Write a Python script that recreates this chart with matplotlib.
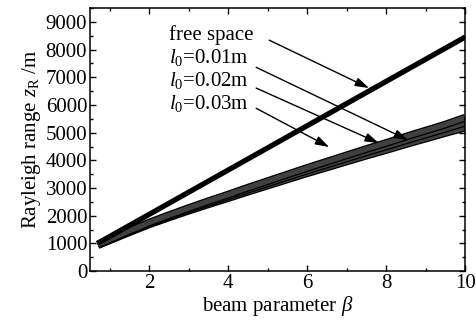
import matplotlib
matplotlib.use("Agg")
import matplotlib.pyplot as plt
import matplotlib.patheffects as pe
from matplotlib.ticker import MultipleLocator

beta = [0.7, 1.0, 1.5, 2.0, 2.5, 3.0, 3.5, 4.0, 4.5, 5.0, 5.5, 6.0, 6.5, 7.0, 7.5, 8.0, 8.5, 9.0, 9.5, 10.0]
z_free = [1010, 1250, 1650, 2050, 2450, 2850, 3250, 3650, 4050, 4450, 4850, 5250, 5650, 6050, 6450, 6850, 7250, 7650, 8050, 8450]
z_l001 = [961, 1146, 1454, 1752, 2020, 2278, 2526, 2764, 3012, 3250, 3488, 3726, 3954, 4182, 4410, 4628, 4856, 5074, 5292, 5540]
z_l002 = [950, 1130, 1430, 1720, 1980, 2230, 2470, 2700, 2940, 3170, 3400, 3630, 3850, 4070, 4290, 4500, 4720, 4930, 5140, 5360]
z_l003 = [939, 1114, 1406, 1688, 1940, 2182, 2414, 2636, 2868, 3090, 3312, 3534, 3746, 3958, 4170, 4372, 4584, 4786, 4988, 5180]

labels = ["free space", r"$l_0$=0.01m", r"$l_0$=0.02m", r"$l_0$=0.03m"]
text_pos = [(2.51, 8520), (2.51, 7725), (2.51, 6900), (2.51, 6065)]
arrow_start = [(5.04, 8340), (4.71, 7360), (4.71, 6610), (4.71, 5880)]
arrow_end = [(7.57, 6610), (8.56, 4730), (7.82, 4620), (6.56, 4480)]

plt.rcParams['font.family'] = ['Liberation Serif', 'DejaVu Serif']
plt.rcParams['mathtext.fontset'] = 'custom'
plt.rcParams['mathtext.rm'] = 'Liberation Serif'
plt.rcParams['mathtext.it'] = 'Liberation Serif:italic'

fig = plt.figure(figsize=(4.76, 3.22), dpi=100)
ax = fig.add_axes([0.189, 0.158, 0.788, 0.817])

for z in (z_l003, z_l002, z_l001):
    ax.plot(beta, z, color='#404040', lw=3.8, solid_capstyle='butt',
            path_effects=[pe.Stroke(linewidth=5.6, foreground='black'), pe.Normal()])
ax.plot(beta, z_free, color='black', lw=3.8, solid_capstyle='butt')

for lab, tp, s, e in zip(labels, text_pos, arrow_start, arrow_end):
    ax.text(tp[0], tp[1], lab, fontsize=15, va='center', ha='left')
    ax.annotate('', xy=e, xytext=s,
                arrowprops=dict(arrowstyle='-|>,head_length=0.7,head_width=0.22',
                                color='black', lw=1.0,
                                mutation_scale=12, shrinkA=0, shrinkB=0))

ax.set_xlim(0.5, 10)
ax.set_ylim(0, 9500)
ax.xaxis.set_major_locator(MultipleLocator(2))
ax.xaxis.set_minor_locator(MultipleLocator(1))
ax.yaxis.set_major_locator(MultipleLocator(1000))
ax.yaxis.set_minor_locator(MultipleLocator(500))
ax.tick_params(which='both', direction='in', top=True, right=True, labelsize=15, width=1.0)
ax.tick_params(which='major', length=4, pad=2)
ax.tick_params(which='minor', length=2.5)
for sp in ax.spines.values():
    sp.set_linewidth(1.1)

ax.set_xlabel(r"beam parameter $\beta$", fontsize=15, labelpad=1)
ax.set_ylabel(r"Rayleigh range $z_{\mathrm{R}}$ /m", fontsize=15, labelpad=2)

fig.savefig("out.png", dpi=100)
